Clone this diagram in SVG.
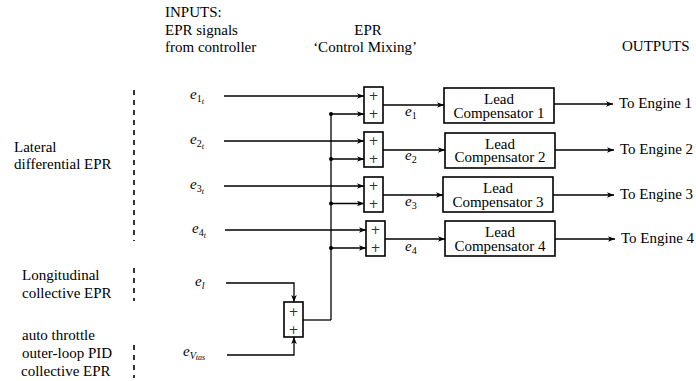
<svg xmlns="http://www.w3.org/2000/svg" width="696" height="381" viewBox="0 0 696 381" font-family="'Liberation Serif', 'DejaVu Serif', serif">
<defs>
<marker id="ah" viewBox="0 0 10 8" refX="10" refY="4" markerWidth="7" markerHeight="5.6" markerUnits="userSpaceOnUse" orient="auto">
<path d="M0,0 L10,4 L0,8 L2.5,4 Z" fill="#000"/>
</marker>
<style>
text{font-family:'Liberation Serif','DejaVu Serif',serif;font-size:15px;fill:#000}
.m{font-style:italic}
.s{font-style:normal;font-size:10px}
.ss{font-style:italic;font-size:8px}
.c{text-anchor:middle}
.p{font-family:'DejaVu Sans',sans-serif;font-size:12px;text-anchor:middle;fill:#333}
.ln{fill:none;stroke:#000;stroke-width:1.3}
.ar{fill:none;stroke:#000;stroke-width:1.3;marker-end:url(#ah)}
.bx{fill:#fff;stroke:#000;stroke-width:1.6}
.dash{stroke:#000;stroke-width:1.6;stroke-dasharray:5 5}
</style>
</defs>
<rect width="696" height="381" fill="#fff"/>

<g id="headers">
<text x="165" y="17">INPUTS:</text>
<text x="165" y="35">EPR signals</text>
<text x="165" y="52">from controller</text>
<text x="368" y="35" class="c">EPR</text>
<text x="365" y="52" class="c">‘Control Mixing’</text>
<text x="622" y="51">OUTPUTS</text>
</g>

<g id="left-labels">
<text x="14" y="152">Lateral</text>
<text x="14" y="169">differential EPR</text>
<text x="22" y="280">Longitudinal</text>
<text x="22" y="298">collective EPR</text>
<text x="22" y="340">auto throttle</text>
<text x="22" y="358">outer-loop PID</text>
<text x="21" y="376">collective EPR</text>
<line class="dash" x1="134" y1="90" x2="134" y2="241"/>
<line class="dash" x1="134" y1="268" x2="134" y2="301"/>
<line class="dash" x1="134" y1="345" x2="134" y2="378"/>
</g>

<g id="input-labels">
<text x="190" y="99" class="m">e<tspan class="s" dy="3">1</tspan><tspan class="ss" dy="2">t</tspan></text>
<text x="190" y="144" class="m">e<tspan class="s" dy="3">2</tspan><tspan class="ss" dy="2">t</tspan></text>
<text x="190" y="189" class="m">e<tspan class="s" dy="3">3</tspan><tspan class="ss" dy="2">t</tspan></text>
<text x="192" y="233" class="m">e<tspan class="s" dy="3">4</tspan><tspan class="ss" dy="2">t</tspan></text>
<text x="195" y="286" class="m">e<tspan style="font-size:10px" dy="3">l</tspan></text>
<text x="183" y="356" class="m">e<tspan style="font-size:10px" dy="3">V</tspan><tspan class="ss" dy="1">tas</tspan></text>
</g>

<g id="connectors">
<line class="ar" x1="224" y1="96" x2="364" y2="96"/>
<line class="ar" x1="224" y1="141" x2="364" y2="141"/>
<line class="ar" x1="224" y1="186" x2="364" y2="186"/>
<line class="ar" x1="225" y1="230" x2="366" y2="230"/>
<line class="ln" x1="331" y1="114" x2="331" y2="320"/>
<line class="ln" x1="303" y1="320" x2="331" y2="320"/>
<line class="ar" x1="331" y1="114" x2="364" y2="114"/>
<line class="ar" x1="331" y1="159" x2="364" y2="159"/>
<line class="ar" x1="331" y1="203.5" x2="364" y2="203.5"/>
<line class="ar" x1="331" y1="248" x2="366" y2="248"/>
<circle cx="331" cy="114" r="2" fill="#000"/>
<circle cx="331" cy="159" r="2" fill="#000"/>
<circle cx="331" cy="203.5" r="2" fill="#000"/>
<circle cx="331" cy="248" r="2" fill="#000"/>
<polyline class="ar" points="226,283 294,283 294,302"/>
<polyline class="ar" points="227,355 294,355 294,337"/>
<line class="ar" x1="383" y1="105" x2="444" y2="105"/>
<line class="ar" x1="383" y1="150" x2="445" y2="150"/>
<line class="ar" x1="383" y1="195" x2="443" y2="195"/>
<line class="ar" x1="385" y1="239" x2="445" y2="239"/>
<line class="ar" x1="554" y1="104" x2="613" y2="104"/>
<line class="ar" x1="555" y1="150" x2="614" y2="150"/>
<line class="ar" x1="553" y1="195" x2="614" y2="195"/>
<line class="ar" x1="555" y1="239" x2="615" y2="239"/>
<text x="405" y="116" class="m">e<tspan class="s" dy="3">1</tspan></text>
<text x="405" y="160" class="m">e<tspan class="s" dy="3">2</tspan></text>
<text x="405" y="206" class="m">e<tspan class="s" dy="3">3</tspan></text>
<text x="405" y="251" class="m">e<tspan class="s" dy="3">4</tspan></text>
</g>

<g id="sum1">
<rect class="bx" x="364" y="87" width="19" height="36"/>
<text class="p" x="373.5" y="100">+</text>
<text class="p" x="373.5" y="118">+</text>
</g>
<g id="sum2">
<rect class="bx" x="364" y="132" width="19" height="35"/>
<text class="p" x="373.5" y="145">+</text>
<text class="p" x="373.5" y="163">+</text>
</g>
<g id="sum3">
<rect class="bx" x="364" y="177" width="19" height="35"/>
<text class="p" x="373.5" y="190">+</text>
<text class="p" x="373.5" y="207.5">+</text>
</g>
<g id="sum4">
<rect class="bx" x="366" y="221" width="19" height="35"/>
<text class="p" x="375.5" y="234">+</text>
<text class="p" x="375.5" y="252">+</text>
</g>
<g id="sum-collective">
<rect class="bx" x="284" y="302" width="19" height="35"/>
<text class="p" x="293.5" y="316">+</text>
<text class="p" x="293.5" y="334">+</text>
</g>

<g id="lead1">
<rect class="bx" x="444" y="88" width="110" height="35"/>
<text class="c" x="499" y="104">Lead</text>
<text class="c" x="499" y="118">Compensator 1</text>
</g>
<g id="lead2">
<rect class="bx" x="445" y="133" width="110" height="35"/>
<text class="c" x="500" y="149">Lead</text>
<text class="c" x="500" y="162">Compensator 2</text>
</g>
<g id="lead3">
<rect class="bx" x="443" y="177" width="110" height="35"/>
<text class="c" x="498" y="193">Lead</text>
<text class="c" x="498" y="207">Compensator 3</text>
</g>
<g id="lead4">
<rect class="bx" x="445" y="221" width="110" height="35"/>
<text class="c" x="500" y="237">Lead</text>
<text class="c" x="500" y="251">Compensator 4</text>
</g>

<g id="outputs">
<text x="619" y="108">To Engine 1</text>
<text x="620" y="154">To Engine 2</text>
<text x="620" y="199">To Engine 3</text>
<text x="621" y="243">To Engine 4</text>
</g>
</svg>
